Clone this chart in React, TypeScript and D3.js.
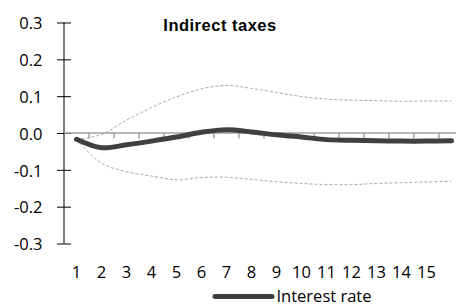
import { useEffect, useRef } from "react";
import * as d3 from "d3";

const periods = [1, 2, 3, 4, 5, 6, 7, 8, 9, 10, 11, 12, 13, 14, 15, 16];
const tickLabels = ["1", "2", "3", "4", "5", "6", "7", "8", "9", "10", "11", "12", "13", "14", "15", ""];
const interestRate = [-0.017, -0.04, -0.032, -0.022, -0.011, 0.002, 0.009, 0.003, -0.005, -0.011, -0.018, -0.02, -0.021, -0.022, -0.022, -0.021];
const upperBand = [-0.018, -0.004, 0.035, 0.069, 0.098, 0.12, 0.129, 0.121, 0.11, 0.099, 0.092, 0.089, 0.088, 0.086, 0.087, 0.087];
const lowerBand = [-0.018, -0.082, -0.105, -0.117, -0.127, -0.121, -0.12, -0.126, -0.132, -0.137, -0.14, -0.14, -0.137, -0.135, -0.133, -0.131];
const yTicks = [-0.3, -0.2, -0.1, 0, 0.1, 0.2, 0.3];

const App = () => {
  const ref = useRef<SVGSVGElement>(null);

  useEffect(() => {
    const svg = d3.select(ref.current);
    svg.selectAll("*").remove();
    const labelFont = "'Open Sans', sans-serif";

    const x = d3.scaleBand<number>().domain(periods).range([64, 464]);
    const y = d3.scaleLinear().domain([-0.3, 0.3]).range([243.5, 22.5]);
    const cx = (p: number) => (x(p) || 0) + x.bandwidth() / 2;

    // y axis, ticks cross the line
    const gy = svg
      .append("g")
      .attr("transform", "translate(64,0)")
      .call(
        d3
          .axisLeft(y)
          .tickValues(yTicks)
          .tickSize(7)
          .tickFormat((d) => (d as number).toFixed(1).replace("−", "-"))
      );
    gy.select(".domain").attr("stroke", "#000").attr("d", `M0,${y(0.3)}V${y(-0.3)}`);
    gy.selectAll(".tick line").attr("x1", -7).attr("x2", 7).attr("stroke", "#000");
    gy.selectAll(".tick text")
      .attr("x", -21.5)
      .attr("dy", "0.38em")
      .attr("font-family", labelFont)
      .attr("font-size", 16.5)
      .attr("fill", "#000");

    // dashed bands
    const line = d3
      .line<number>()
      .x((_, i) => cx(periods[i]))
      .y((d) => y(d))
      .curve(d3.curveCatmullRom.alpha(0.5));

    [upperBand, lowerBand].forEach((band) => {
      svg
        .append("path")
        .attr("d", line(band))
        .attr("fill", "none")
        .attr("stroke", "#a8a8a8")
        .attr("stroke-width", 1)
        .attr("stroke-dasharray", "3,2");
    });

    // x axis at zero
    const gx = svg.append("g").attr("transform", `translate(0,${y(0)})`);
    gx.append("line")
      .attr("x1", 64)
      .attr("x2", 464)
      .attr("stroke", "#a0a0a0")
      .attr("stroke-width", 1.5);
    gx.selectAll(".xt")
      .data(periods.slice(1))
      .enter()
      .append("line")
      .attr("x1", (d) => x(d) || 0)
      .attr("x2", (d) => x(d) || 0)
      .attr("y1", 0)
      .attr("y2", 5.5)
      .attr("stroke", "#a0a0a0")
      .attr("stroke-width", 1.5);

    svg
      .selectAll(".xl")
      .data(periods)
      .enter()
      .append("text")
      .attr("x", (d) => cx(d))
      .attr("y", 277.5)
      .attr("text-anchor", "middle")
      .attr("font-family", labelFont)
      .attr("font-size", 16.5)
      .text((_, i) => tickLabels[i]);

    // main line
    svg
      .append("path")
      .attr("d", line(interestRate))
      .attr("fill", "none")
      .attr("stroke", "#404040")
      .attr("stroke-width", 5)
      .attr("stroke-linecap", "round")
      .attr("stroke-linejoin", "round");

    // title
    svg
      .append("text")
      .attr("x", 220)
      .attr("y", 31)
      .attr("text-anchor", "middle")
      .attr("font-family", "'Liberation Sans', Arial, sans-serif")
      .attr("font-weight", "bold")
      .attr("font-size", 16.5)
      .attr("letter-spacing", 0.5)
      .text("Indirect taxes");

    // legend
    svg
      .append("line")
      .attr("x1", 215)
      .attr("x2", 272)
      .attr("y1", 296.5)
      .attr("y2", 296.5)
      .attr("stroke", "#404040")
      .attr("stroke-width", 5)
      .attr("stroke-linecap", "round");
    svg
      .append("text")
      .attr("x", 276.5)
      .attr("y", 302)
      .attr("font-family", labelFont)
      .attr("font-size", 16.5)
      .text("Interest rate");
  }, []);

  return (
    <svg
      ref={ref}
      width={456}
      height={307}
      style={{ position: "absolute", left: 0, top: 0, background: "#fff" }}
    />
  );
};

export default App;
